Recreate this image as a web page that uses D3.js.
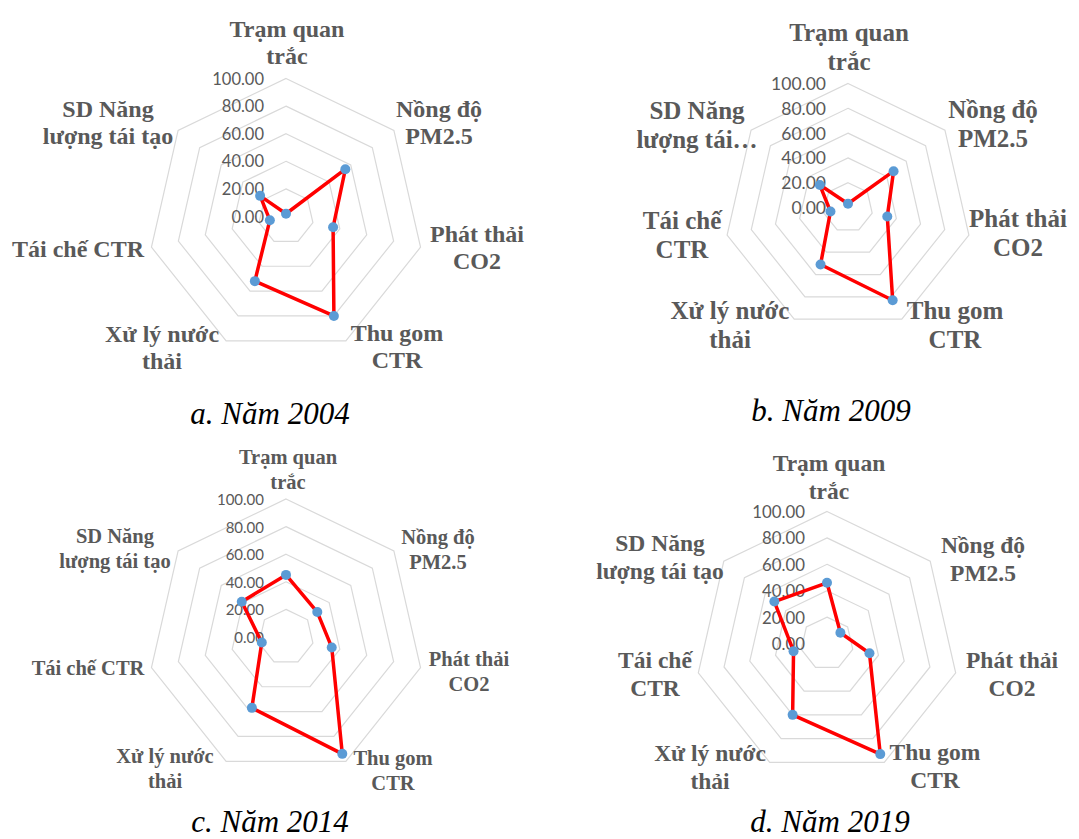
<!DOCTYPE html>
<html>
<head>
<meta charset="utf-8">
<script src="https://cdn.jsdelivr.net/npm/d3@7"></script>
<style>
  html, body { margin: 0; padding: 0; background: #fff; }
  svg { display: block; }
</style>
</head>
<body>
<svg id="chart" width="1079" height="839"></svg>
<script>
// ---------------- DATA ----------------
const categories = ["Trạm quan trắc", "Nồng độ PM2.5", "Phát thải CO2", "Thu gom CTR",
                    "Xử lý nước thải", "Tái chế CTR", "SD Năng lượng tái tạo"];
const panelTitles = ["a. Năm 2004", "b. Năm 2009", "c. Năm 2014", "d. Năm 2019"];
const values2004 = [2, 55, 35, 80, 52, 12, 24];
const values2009 = [3, 47, 32.5, 83, 51, 14.5, 29];
const values2014 = [45, 29, 34, 94, 57, 18, 41];
const values2019 = [46, 13, 33, 93, 60, 26, 51];
const tickValues = [0, 20, 40, 60, 80, 100];
// category label wrapping per panel
const labelLinesA = [["Trạm quan", "trắc"], ["Nồng độ", "PM2.5"], ["Phát thải", "CO2"], ["Thu gom", "CTR"],
                     ["Xử lý nước", "thải"], ["Tái chế CTR"], ["SD Năng", "lượng tái tạo"]];
const labelLinesB = [["Trạm quan", "trắc"], ["Nồng độ", "PM2.5"], ["Phát thải", "CO2"], ["Thu gom", "CTR"],
                     ["Xử lý nước", "thải"], ["Tái chế", "CTR"], ["SD Năng", "lượng tái…"]];
const labelLinesC = labelLinesA;
const labelLinesD = [["Trạm quan", "trắc"], ["Nồng độ", "PM2.5"], ["Phát thải", "CO2"], ["Thu gom", "CTR"],
                     ["Xử lý nước", "thải"], ["Tái chế", "CTR"], ["SD Năng", "lượng tái tạo"]];

// ---------------- LAYOUT ----------------
const layouts = [
  { values: values2004, lines: labelLinesA, cx: 286, cy: 216.5, R: 138, labFont: 24, tickFont: 16.5, lineGap: 27,
    labPos: [[287, 29], [439, 109], [477, 234], [397, 333], [162, 334], [78, 249], [108, 109]],
    title: [270, 413] },
  { values: values2009, lines: labelLinesB, cx: 848, cy: 207.5, R: 124, labFont: 25, tickFont: 17.5, lineGap: 29,
    labPos: [[849, 32], [993, 109], [1018, 218], [955, 310], [730, 310], [682, 220], [697, 110]],
    title: [831, 410] },
  { values: values2014, lines: labelLinesC, cx: 286, cy: 637, R: 138, labFont: 20.5, tickFont: 15, lineGap: 25,
    labPos: [[288, 457], [438, 537], [469, 659], [393, 758], [165, 756], [88, 668], [115, 536]],
    title: [270, 821] },
  { values: values2019, lines: labelLinesD, cx: 827, cy: 643.5, R: 132, labFont: 23.5, tickFont: 16.8, lineGap: 28,
    labPos: [[829, 463], [983, 545], [1012, 660], [935, 752], [710, 753], [655, 660], [660, 543]],
    title: [830, 821] }
];

const svg = d3.select("#chart");
const n = categories.length;
const angle = d3.scaleLinear().domain([0, n]).range([0, 2 * Math.PI]);

layouts.forEach((L, pi) => {
  const g = svg.append("g");
  const r = d3.scaleLinear().domain([0, 100]).range([0, L.R]);
  const pt = (i, v) => [L.cx + r(v) * Math.sin(angle(i)), L.cy - r(v) * Math.cos(angle(i))];

  // grid rings
  const ringLine = d3.line().curve(d3.curveLinearClosed);
  g.selectAll("path.ring").data(tickValues.filter(t => t > 0)).join("path")
    .attr("class", "ring")
    .attr("d", t => ringLine(d3.range(n).map(i => pt(i, t))))
    .attr("fill", "none").attr("stroke", "#d9d9d9").attr("stroke-width", 1.2);

  // tick labels
  g.selectAll("text.tick").data(tickValues).join("text")
    .attr("class", "tick")
    .attr("x", L.cx - 22)
    .attr("y", t => L.cy - r(t))
    .attr("text-anchor", "end")
    .attr("dominant-baseline", "central")
    .attr("font-family", "Lato, 'Liberation Sans', sans-serif")
    .attr("font-size", L.tickFont)
    .attr("fill", "#595959")
    .text(d3.format(".2f"));

  // series line
  const seriesLine = d3.line().curve(d3.curveLinearClosed);
  g.append("path")
    .attr("d", seriesLine(L.values.map((v, i) => pt(i, v))))
    .attr("fill", "none").attr("stroke", "#ff0000").attr("stroke-width", 3.5)
    .attr("stroke-linejoin", "round");

  // markers
  g.selectAll("circle").data(L.values).join("circle")
    .attr("cx", (v, i) => pt(i, v)[0])
    .attr("cy", (v, i) => pt(i, v)[1])
    .attr("r", 5)
    .attr("fill", "#5b9bd5");

  // category labels
  categories.forEach((c, i) => {
    const t = g.append("text")
      .attr("text-anchor", "middle")
      .attr("font-family", "'Liberation Serif', 'Times New Roman', serif")
      .attr("font-weight", "bold")
      .attr("font-size", L.labFont)
      .attr("fill", "#595959");
    L.lines[i].forEach((ln, k) => {
      t.append("tspan")
        .attr("x", L.labPos[i][0])
        .attr("y", L.labPos[i][1] + k * L.lineGap)
        .attr("dominant-baseline", "central")
        .text(ln);
    });
  });

  // panel title
  g.append("text")
    .attr("x", L.title[0]).attr("y", L.title[1])
    .attr("text-anchor", "middle")
    .attr("dominant-baseline", "central")
    .attr("font-family", "'Liberation Serif', 'Times New Roman', serif")
    .attr("font-style", "italic")
    .attr("font-size", 31)
    .attr("fill", "#000")
    .text(panelTitles[pi]);
});
</script>
</body>
</html>
